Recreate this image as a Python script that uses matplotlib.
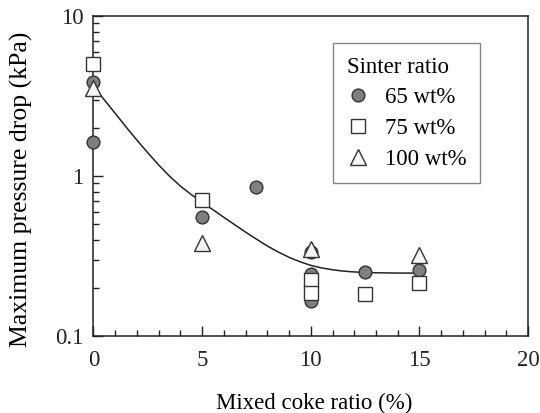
import matplotlib.pyplot as plt
from matplotlib.ticker import MultipleLocator, LogLocator, NullFormatter, FixedFormatter, FixedLocator

plt.rcParams['font.family'] = ['Liberation Serif', 'DejaVu Serif']

# data
x65 = [0, 0, 5, 7.5, 10, 10, 10, 12.5, 15]
y65 = [3.87, 1.63, 0.555, 0.853, 0.335, 0.244, 0.165, 0.25, 0.259]

x75 = [0, 5, 10, 10, 12.5, 15]
y75 = [5.0, 0.708, 0.224, 0.186, 0.183, 0.214]

x100 = [0, 5, 10, 15]
y100 = [3.55, 0.38, 0.35, 0.32]

# trend line
xfit = [0, 0.5, 1, 1.5, 2, 2.5, 3, 3.5, 4, 4.5, 5, 5.5, 6, 6.5, 7, 7.5, 8, 8.5, 9, 9.5, 10,
        10.5, 11, 11.5, 12, 12.5, 13, 14, 15]
yfit = [3.65, 3.0, 2.47, 2.03, 1.68, 1.40, 1.175, 1.0, 0.867, 0.767, 0.687, 0.617, 0.553,
        0.497, 0.447, 0.404, 0.366, 0.336, 0.311, 0.292, 0.277, 0.267, 0.26, 0.255, 0.252,
        0.25, 0.249, 0.248, 0.248]

fig = plt.figure(figsize=(5.4, 4.13), dpi=100)
ax = fig.add_axes([0.173, 0.186, 0.805, 0.775])

ax.plot(xfit, yfit, color='#222222', lw=1.1, zorder=2)

ax.plot(x65, y65, 'o', ms=9.2, mfc='#7f7f7f', mec='#333333', mew=1.0, ls='none',
        label='65 wt%', zorder=3, clip_on=False)
ax.plot(x75, y75, 's', ms=9.6, mfc='white', mec='#333333', mew=1.0, ls='none',
        label='75 wt%', zorder=4, clip_on=False)
ax.plot(x100, y100, '^', ms=11, mfc='#f4f4f4', mec='#333333', mew=1.0, ls='none',
        label='100 wt%', zorder=5, clip_on=False)

ax.set_yscale('log')
ax.set_xlim(0, 20)
ax.set_ylim(0.1, 10)
ax.xaxis.set_major_locator(MultipleLocator(5))
ax.xaxis.set_minor_locator(MultipleLocator(1))
ax.yaxis.set_major_locator(FixedLocator([0.1, 1, 10]))
ax.yaxis.set_major_formatter(FixedFormatter(['0.1', '1', '10']))
ax.yaxis.set_minor_locator(LogLocator(base=10, subs=range(2, 10)))
ax.yaxis.set_minor_formatter(NullFormatter())

ax.tick_params(which='both', direction='in', top=False, right=False, labelsize=16.5, colors='#222222')
ax.tick_params(which='major', length=7, width=1)
ax.tick_params(which='minor', length=4, width=1)
ax.tick_params(axis='x', pad=10)
ax.tick_params(axis='y', pad=7)
for s in ax.spines.values():
    s.set_linewidth(1.1)
    s.set_color('#222222')

ax.set_xlabel('Mixed coke ratio (%)', fontsize=16.5)
ax.set_ylabel('Maximum pressure drop (kPa)', fontsize=18.5)
ax.xaxis.set_label_coords(0.507, -0.177)
ax.yaxis.set_label_coords(-0.139, 0.458)

leg = ax.legend(title='Sinter ratio', loc='upper left', bbox_to_anchor=(0.551, 0.916),
                borderaxespad=0, fontsize=16.5, title_fontsize=16.5, frameon=True,
                fancybox=False, edgecolor='#666666', handlelength=1.0, handletextpad=0.65,
                borderpad=0.6, labelspacing=0.42)
leg._legend_box.align = 'left'
leg.get_frame().set_linewidth(1.0)

fig.savefig('out.png', dpi=100)
